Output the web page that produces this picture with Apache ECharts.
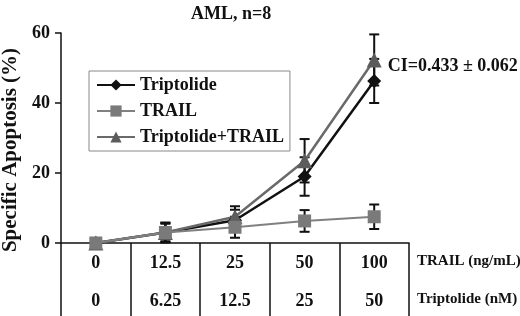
<!DOCTYPE html>
<html>
<head>
<meta charset="utf-8">
<script src="https://cdn.jsdelivr.net/npm/echarts@6/dist/echarts.min.js"></script>
<style>
  html, body { margin: 0; padding: 0; background: #fff; }
  #main { width: 520px; height: 316px; }
</style>
</head>
<body>
<div id="main"></div>
<script>
// doses shown in the table under the x axis
var trailDoses = ['0', '12.5', '25', '50', '100'];
var tripDoses = ['0', '6.25', '12.5', '25', '50'];

// specific apoptosis (%) and error (+/-)
var tripVals = [0, 3, 6.5, 19, 46.3];
var tripErr = [0, 2.5, 3, 5.5, 6.3];
var trailVals = [0, 3, 4.5, 6.3, 7.5];
var trailErr = [0, 2.8, 3, 3.1, 3.5];
var comboVals = [0, 3, 7.5, 23.5, 52.3];
var comboErr = [0, 2.8, 3, 6.2, 7.3];

var yTicks = [0, 20, 40, 60];

var serif = '"Liberation Serif", "Times New Roman", serif';

function errData(vals, errs) {
  return vals.map(function (v, i) { return [i, v - errs[i], v + errs[i]]; });
}

function errSeries(vals, errs) {
  return {
    type: 'custom',
    z: 1,
    silent: true,
    data: errData(vals, errs),
    encode: { x: 0, y: [1, 2] },
    renderItem: function (params, api) {
      if (api.value(2) - api.value(1) <= 0) return null;
      var lo = api.coord([api.value(0), api.value(1)]);
      var hi = api.coord([api.value(0), api.value(2)]);
      var st = { stroke: '#111', lineWidth: 2 };
      return {
        type: 'group',
        children: [
          { type: 'line', shape: { x1: lo[0], y1: lo[1], x2: hi[0], y2: hi[1] }, style: st },
          { type: 'line', shape: { x1: lo[0] - 5, y1: lo[1], x2: lo[0] + 5, y2: lo[1] }, style: st },
          { type: 'line', shape: { x1: hi[0] - 5, y1: hi[1], x2: hi[0] + 5, y2: hi[1] }, style: st }
        ]
      };
    }
  };
}

var myChart = echarts.init(document.getElementById('main'));

var comboData = comboVals.map(function (v, i) {
  if (i !== comboVals.length - 1) return v;
  return {
    value: v,
    label: {
      show: true, position: 'right', distance: 6, offset: [0, 6],
      formatter: 'CI=0.433 ± 0.062',
      color: '#111', fontFamily: serif, fontWeight: 'bold', fontSize: 18
    }
  };
});

var option = {
  animation: false,
  title: {
    text: 'AML, n=8',
    left: 186, top: 0,
    textStyle: { fontFamily: serif, fontWeight: 'bold', fontSize: 18, color: '#111' }
  },
  legend: {
    orient: 'vertical',
    left: 89, top: 71,
    padding: [5, 6, 5, 7],
    itemGap: 8,
    itemWidth: 38,
    itemHeight: 14,
    borderColor: '#888',
    borderWidth: 1,
    textStyle: { fontFamily: serif, fontWeight: 'bold', fontSize: 18, color: '#111' },
    data: ['Triptolide', 'TRAIL', 'Triptolide+TRAIL']
  },
  grid: { left: 61, right: 111, top: 33, bottom: 73, containLabel: false, outerBoundsMode: 'none' },
  xAxis: {
    type: 'category',
    data: trailDoses,
    boundaryGap: true,
    axisLine: { lineStyle: { color: '#111', width: 1.5 } },
    axisTick: { show: true, length: 73, inside: false, lineStyle: { color: '#111', width: 1.5 } },
    axisLabel: {
      margin: 1,
      lineHeight: 38,
      fontFamily: serif, fontWeight: 'bold', fontSize: 18, color: '#111',
      formatter: function (val, idx) { return val + '\n' + tripDoses[idx]; }
    },
    splitLine: { show: false }
  },
  yAxis: {
    type: 'value',
    min: yTicks[0],
    max: yTicks[yTicks.length - 1],
    interval: 20,
    name: 'Specific Apoptosis (%)',
    nameLocation: 'middle',
    nameGap: 40,
    nameTextStyle: { fontFamily: serif, fontWeight: 'bold', fontSize: 21, color: '#111', padding: [0, 24, 0, 0] },
    axisLine: { show: true, lineStyle: { color: '#111', width: 1.5 } },
    axisTick: { show: true, length: 6, lineStyle: { color: '#111', width: 1.5 } },
    axisLabel: { margin: 11, fontFamily: serif, fontWeight: 'bold', fontSize: 18, color: '#111' },
    splitLine: { show: false }
  },
  graphic: [
    { type: 'text', left: 417, top: 254, style: { text: 'TRAIL (ng/mL)', font: 'bold 15px ' + serif, fill: '#111' } },
    { type: 'text', left: 417, top: 292, style: { text: 'Triptolide (nM)', font: 'bold 15px ' + serif, fill: '#111' } }
  ],
  series: [
    errSeries(tripVals, tripErr),
    errSeries(trailVals, trailErr),
    errSeries(comboVals, comboErr),
    {
      name: 'Triptolide', type: 'line', z: 3,
      data: tripVals,
      symbol: 'diamond', symbolSize: 14,
      lineStyle: { color: '#111', width: 2.5 },
      itemStyle: { color: '#111' }
    },
    {
      name: 'TRAIL', type: 'line', z: 4,
      data: trailVals,
      symbol: 'rect', symbolSize: 13,
      lineStyle: { color: '#808080', width: 2 },
      itemStyle: { color: '#7a7a7a' }
    },
    {
      name: 'Triptolide+TRAIL', type: 'line', z: 3,
      data: comboData,
      symbol: 'triangle', symbolSize: 15,
      lineStyle: { color: '#6a6a6a', width: 2.5 },
      itemStyle: { color: '#5c5c5c' }
    }
  ]
};

myChart.setOption(option);
</script>
</body>
</html>
